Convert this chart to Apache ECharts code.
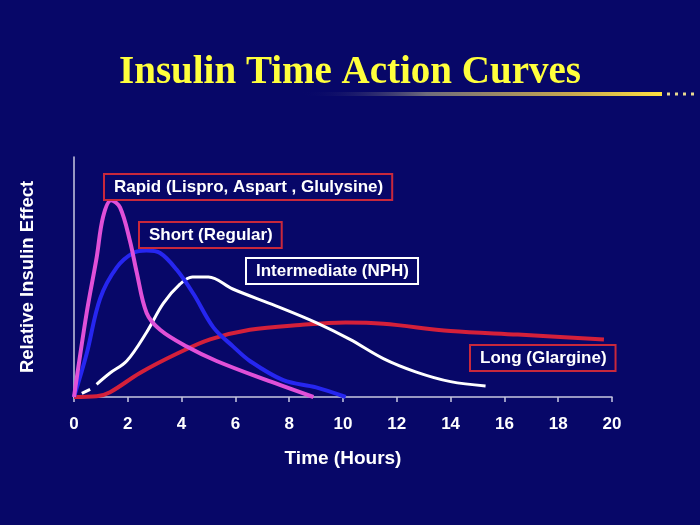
<!DOCTYPE html>
<html>
<head>
<meta charset="utf-8">
<script src="https://cdn.jsdelivr.net/npm/echarts@6/dist/echarts.min.js"></script>
<style>
  html, body { margin: 0; padding: 0; background: #070768; }
  #chart { width: 700px; height: 525px; }
</style>
</head>
<body>
<div id="chart"></div>
<script>
// hours on x, relative effect (0-100) on y
const xTicks = [0, 2, 4, 6, 8, 10, 12, 14, 16, 18, 20];

const rapidHours = [0, 0.47, 0.84, 1.08, 1.38, 1.71, 2.08, 2.33, 2.7, 3.2, 4.19, 5.3, 7.16, 8.9];
const rapidEffect = [0, 35, 58, 75, 82, 79, 65, 52, 35, 28, 21, 15, 7, 0];

const shortHours = [0, 0.47, 0.97, 1.59, 2.2, 2.7, 3.2, 3.82, 4.44, 5.18, 5.92, 6.54, 7.78, 9.0, 10.1];
const shortEffect = [0, 18, 41, 54, 60, 61, 60, 53, 43, 29, 21, 15, 7, 4, 0];

const nphLeadHours = [0.29, 0.6];
const nphLeadEffect = [1.5, 3.2];
const nphHours = [0.84, 1.34, 1.96, 2.7, 3.32, 3.94, 4.4, 5.0, 5.9, 7.5, 9.0, 10.26, 11.5, 12.7, 14.0, 15.3];
const nphEffect = [5.3, 10, 15, 27, 39, 47, 50, 50, 45, 38, 31, 24, 16, 10.5, 6.4, 4.6];

const longHours = [0, 0.84, 1.34, 2.45, 3.82, 5.06, 6.54, 8.4, 10.1, 11.5, 14.0, 16.5, 19.7];
const longEffect = [0, 0.3, 2, 10, 18, 24, 28, 30, 31, 30.5, 27.5, 26, 24];

const labels = ["Rapid (Lispro, Aspart , Glulysine)", "Short (Regular)", "Intermediate (NPH)", "Long (Glargine)"];

function pairs(xs, ys) {
  return xs.map((x, i) => [x, ys[i]]);
}

const chart = echarts.init(document.getElementById("chart"));

function lineSeries(name, data, color, width, extra) {
  return Object.assign({
    name: name,
    type: "line",
    data: data,
    smooth: 0.35,
    symbol: "none",
    lineStyle: { color: color, width: width },
    z: 3,
  }, extra || {});
}

function boxLabel(text, x, y, border) {
  return {
    type: "text",
    left: x,
    top: y,
    z: 10,
    style: {
      text: text,
      fill: "#ffffff",
      font: "bold 17px 'Liberation Sans', Arial, sans-serif",
      padding: [4, 8, 3, 9],
      borderColor: border,
      borderWidth: 2,
      backgroundColor: "#070768",
    },
  };
}

chart.setOption({
  backgroundColor: "#070768",
  animation: false,
  grid: { left: 74, right: 88, top: 157, bottom: 128 },
  xAxis: {
    type: "value",
    min: 0,
    max: 20,
    interval: 2,
    name: "Time (Hours)",
    nameLocation: "middle",
    nameGap: 52,
    nameTextStyle: {
      color: "#ffffff",
      fontSize: 19,
      fontWeight: "bold",
      fontFamily: "Liberation Sans",
    },
    axisLine: { lineStyle: { color: "#c8c8e0", width: 1.5 } },
    axisTick: { show: true, length: 5, lineStyle: { color: "#c8c8e0", width: 1.5 } },
    axisLabel: {
      color: "#ffffff",
      fontSize: 17,
      fontWeight: "bold",
      fontFamily: "Liberation Sans",
      margin: 19,
      formatter: (v) => (xTicks.includes(v) ? String(v) : ""),
    },
    splitLine: { show: false },
  },
  yAxis: {
    type: "value",
    min: 0,
    max: 100,
    name: "Relative Insulin Effect",
    nameLocation: "middle",
    nameGap: 37,
    nameTextStyle: {
      color: "#ffffff",
      fontSize: 18.5,
      fontWeight: "bold",
      fontFamily: "Liberation Sans",
    },
    axisLine: { show: true, lineStyle: { color: "#c8c8e0", width: 1.5 } },
    axisTick: { show: false },
    axisLabel: { show: false },
    splitLine: { show: false },
  },
  series: [
    lineSeries("Long", pairs(longHours, longEffect), "#d4203a", 4),
    lineSeries("Intermediate lead", pairs(nphLeadHours, nphLeadEffect), "#ffffff", 3, { smooth: false }),
    lineSeries("Intermediate", pairs(nphHours, nphEffect), "#ffffff", 3),
    lineSeries("Short", pairs(shortHours, shortEffect), "#2626f0", 4),
    lineSeries("Rapid", pairs(rapidHours, rapidEffect), "#e050d8", 4),
  ],
  graphic: [
    {
      type: "text",
      left: "center",
      top: 53,
      style: {
        text: "Insulin Time Action Curves",
        fill: "#ffff3c",
        font: "bold 39px 'Liberation Serif', 'Times New Roman', serif",
      },
    },
    {
      type: "rect",
      shape: { x: 300, y: 92, width: 362, height: 4 },
      style: {
        fill: new echarts.graphic.LinearGradient(0, 0, 1, 0, [
          { offset: 0, color: "rgba(7,7,104,0)" },
          { offset: 0.35, color: "#6f6c7c" },
          { offset: 0.75, color: "#c8a850" },
          { offset: 1, color: "#ffe040" },
        ]),
      },
    },
    { type: "rect", shape: { x: 667, y: 92.5, width: 3, height: 3 }, style: { fill: "#e8d890" } },
    { type: "rect", shape: { x: 675, y: 92.5, width: 3, height: 3 }, style: { fill: "#e8d890" } },
    { type: "rect", shape: { x: 683, y: 92.5, width: 3, height: 3 }, style: { fill: "#e8d890" } },
    { type: "rect", shape: { x: 691, y: 92.5, width: 3, height: 3 }, style: { fill: "#e8d890" } },
    boxLabel(labels[0], 103, 173, "#c8283c"),
    boxLabel(labels[1], 138, 221, "#c8283c"),
    boxLabel(labels[2], 245, 257, "#ffffff"),
    boxLabel(labels[3], 469, 344, "#c8283c"),
  ],
});
</script>
</body>
</html>
